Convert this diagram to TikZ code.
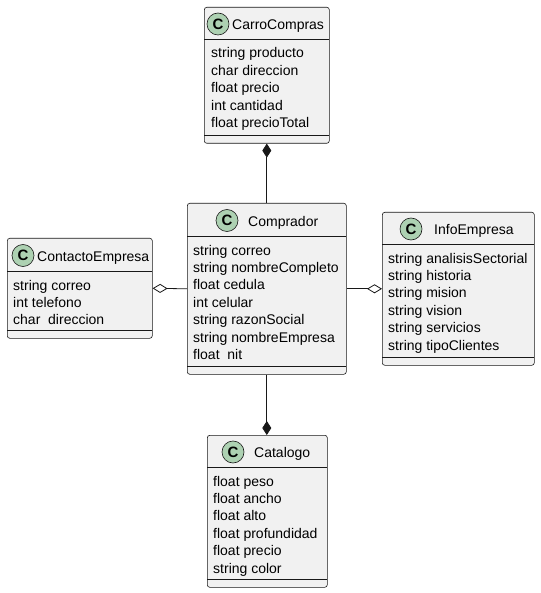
\documentclass[tikz,border=0pt]{standalone}
\usepackage{fontspec}
\setmainfont{Liberation Sans}
\usetikzlibrary{arrows.meta}
\definecolor{UmlBorde}{HTML}{181818}
\definecolor{UmlFondo}{HTML}{F1F1F1}
\definecolor{UmlSpot}{HTML}{ADD1B2}
\tikzset{
  clase/.style={draw=UmlBorde, fill=UmlFondo, line width=0.6pt, rounded corners=2.5pt,
                anchor=north west, inner sep=0pt},
  separador/.style={draw=UmlBorde, line width=0.6pt},
  spot/.style={circle, draw=UmlBorde, fill=UmlSpot, line width=0.6pt, minimum size=22pt,
               inner sep=0pt, font=\fontsize{15}{15}\selectfont\bfseries},
  titulo/.style={anchor=base west, inner sep=0pt, font=\fontsize{14}{17}\selectfont},
  atributo/.style={anchor=base west, inner sep=0pt, font=\fontsize{14}{17}\selectfont},
  composicion/.style={-{Diamond[length=14pt, width=9pt]}, line width=0.8pt, UmlBorde},
  agregacion/.style={-{Diamond[length=15pt, width=9pt, fill=white]}, line width=0.8pt, UmlBorde},
}

\begin{document}
\begin{tikzpicture}[x=1pt, y=-1pt]
  \useasboundingbox (0,0) rectangle (540,593);

  % CarroCompras
  \node[clase, minimum width=125, minimum height=136] (carro) at (204,7) {};
  \draw[separador] (204,39) -- (329,39);
  \draw[separador] (204,135.5) -- (329,135.5);
  \node[spot] (carro-c) at (218,24) {C};
  \node[titulo] (carro-t) at (232,29.5) {CarroCompras};
  \foreach \txt [count=\i] in {string producto, char direccion, float precio,
                               int cantidad, float precioTotal}
    \node[atributo] (carro-\i) at (211, {39+19+17.4*(\i-1)}) {\txt};

  % Comprador
  \node[clase, minimum width=159, minimum height=171] (comprador) at (187,203) {};
  \draw[separador] (187,236) -- (346,236);
  \draw[separador] (187,366.5) -- (346,366.5);
  \node[spot] (comprador-c) at (227,220.5) {C};
  \node[titulo] (comprador-t) at (248,226) {Comprador};
  \foreach \txt [count=\i] in {string correo, string nombreCompleto, float cedula,
                               int celular, string razonSocial, string nombreEmpresa,
                               float\ \ nit}
    \node[atributo] (comprador-\i) at (193, {236+19+17.4*(\i-1)}) {\txt};

  % ContactoEmpresa
  \node[clase, minimum width=145, minimum height=100] (contacto) at (7,238) {};
  \draw[separador] (7,271) -- (152,271);
  \draw[separador] (7,330.5) -- (152,330.5);
  \node[spot] (contacto-c) at (23,255.5) {C};
  \node[titulo] (contacto-t) at (37,261) {ContactoEmpresa};
  \foreach \txt [count=\i] in {string correo, int telefono, char\ \ direccion}
    \node[atributo] (contacto-\i) at (13, {271+19+17.4*(\i-1)}) {\txt};

  % InfoEmpresa
  \node[clase, minimum width=152, minimum height=153] (info) at (382,212) {};
  \draw[separador] (382,244) -- (534,244);
  \draw[separador] (382,357.5) -- (534,357.5);
  \node[spot] (info-c) at (411,229) {C};
  \node[titulo] (info-t) at (434,234.5) {InfoEmpresa};
  \foreach \txt [count=\i] in {string analisisSectorial, string historia, string mision,
                               string vision, string servicios, string tipoClientes}
    \node[atributo] (info-\i) at (388, {244+19+17.4*(\i-1)}) {\txt};

  % Catalogo
  \node[clase, minimum width=120, minimum height=152] (catalogo) at (207,435) {};
  \draw[separador] (207,467) -- (327,467);
  \draw[separador] (207,579.5) -- (327,579.5);
  \node[spot] (catalogo-c) at (233,452) {C};
  \node[titulo] (catalogo-t) at (254,457.5) {Catalogo};
  \foreach \txt [count=\i] in {float peso, float ancho, float alto, float profundidad,
                               float precio, string color}
    \node[atributo] (catalogo-\i) at (213, {467+19+17.4*(\i-1)}) {\txt};

  % Relaciones
  \draw[composicion] (comprador.north) -- (carro.south);
  \draw[composicion] (comprador.south) -- (comprador.south |- catalogo.north);
  \draw[agregacion] (comprador.west) -- (contacto.east);
  \draw[agregacion] (comprador.east) -- (info.west);
\end{tikzpicture}
\end{document}
